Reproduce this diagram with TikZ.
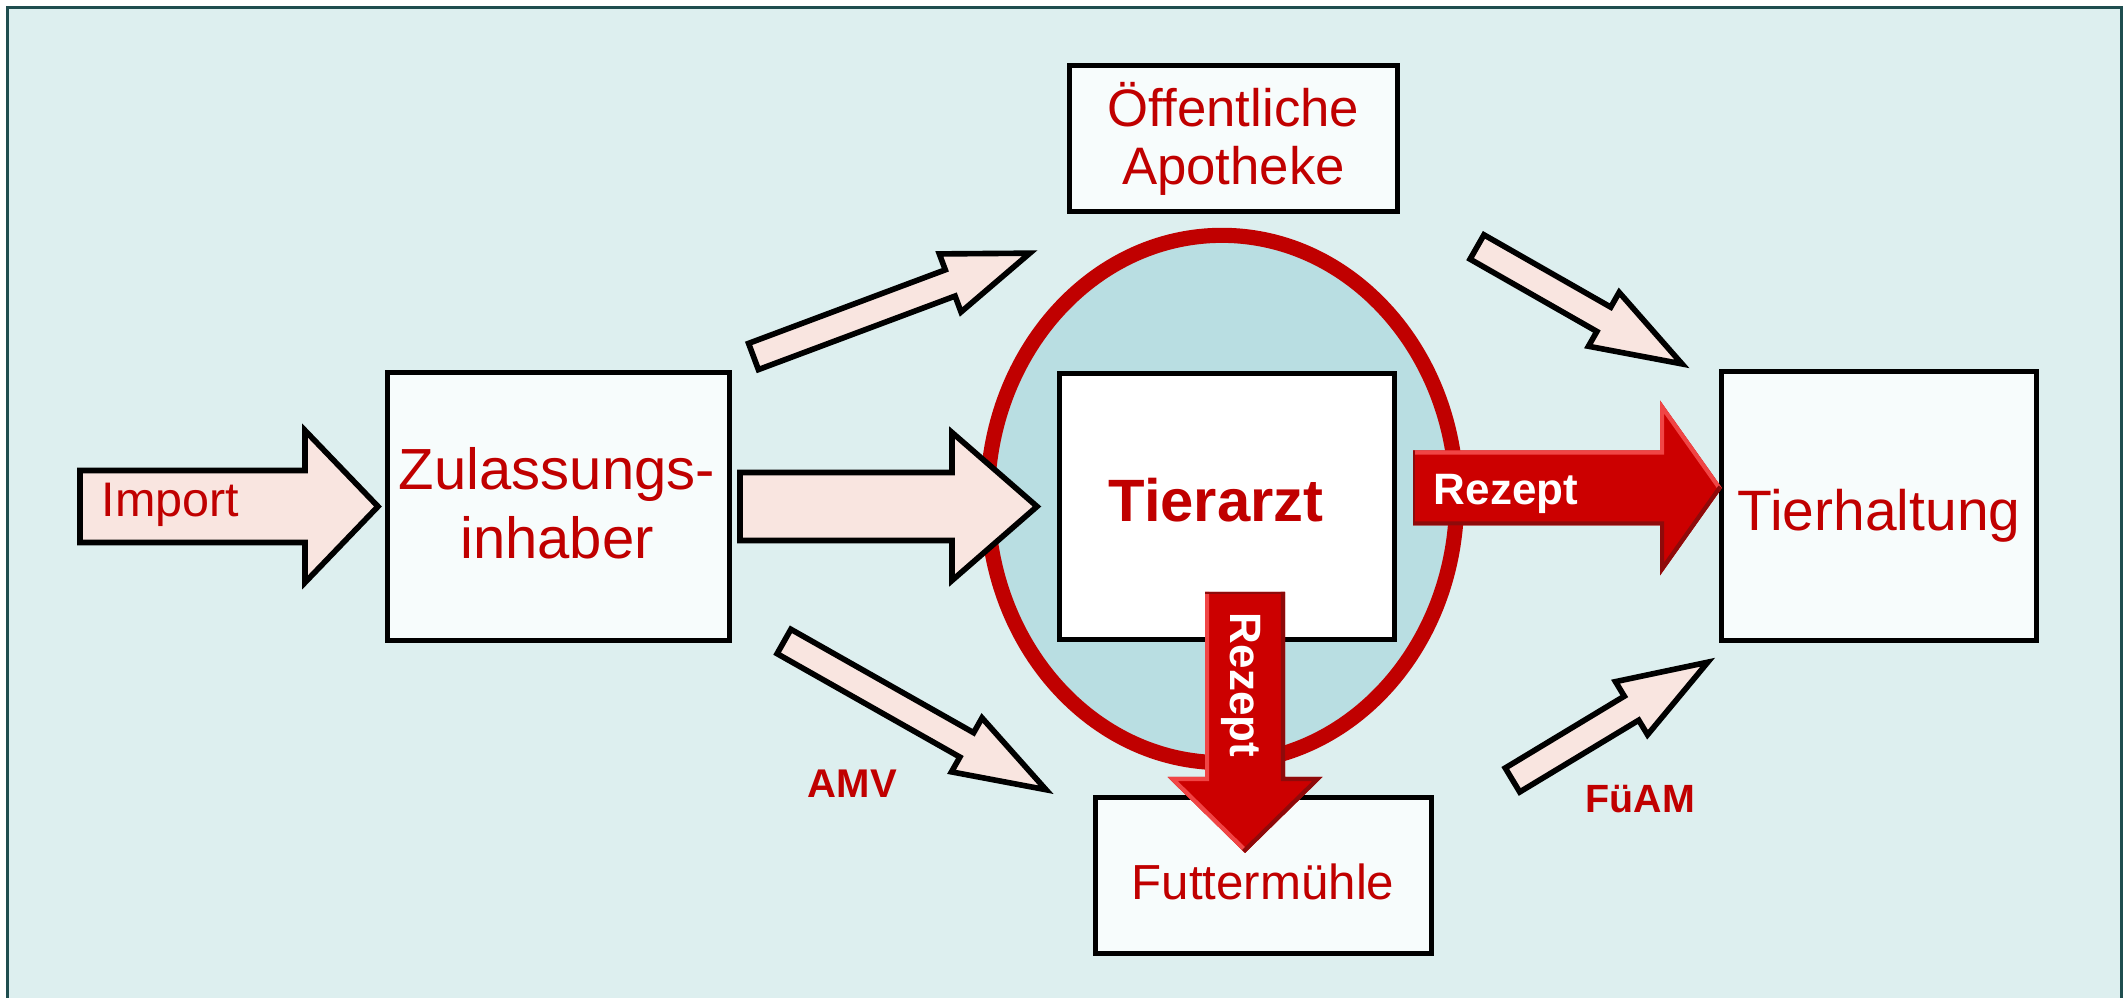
\documentclass[tikz,border=0pt]{standalone}
\usepackage{fontspec}
\setmainfont{Liberation Sans}
\usetikzlibrary{shapes.geometric}
\definecolor{bgteal}{HTML}{DDEFEF}
\definecolor{frameteal}{HTML}{1F4E4F}
\definecolor{txtred}{HTML}{C00000}
\definecolor{ringred}{HTML}{C00000}
\definecolor{ellfill}{HTML}{B9DEE2}
\definecolor{boxfill}{HTML}{F7FCFC}
\definecolor{pinkfill}{HTML}{F9E5E0}
\definecolor{redarrow}{HTML}{CC0000}
\definecolor{redlight}{HTML}{F04545}
\definecolor{reddark}{HTML}{8E0A0A}
\begin{document}
\begin{tikzpicture}[x=0.01cm,y=-0.01cm,
  box/.style={draw=black, line width=1.42pt, fill=boxfill, inner sep=0pt},
  pinkarrow/.style={draw=black, line width=1.6pt, fill=pinkfill, line join=miter},
  lbl/.style={text=txtred, inner sep=0pt},
  rezlbl/.style={text=white, inner sep=0pt, anchor=base, font=\bfseries\fontsize{12.5}{15}\selectfont},
  pics/blockarrow/.style n args={4}{code={
    \draw[pinkarrow] (0,-#1) -- (#3,-#1) -- (#3,-#2) -- (#4,0) -- (#3,#2) -- (#3,#1) -- (0,#1) -- cycle;}},
  pics/redarrow/.style n args={5}{code={
    \fill[redarrow] (0,-#1) -- (#3,-#1) -- (#3,-#2) -- (#4,0) -- (#3,#2) -- (#3,#1) -- (0,#1) -- cycle;
    \begin{scope}
      \clip (0,-#1) -- (#3,-#1) -- (#3,-#2) -- (#4,0) -- (#3,#2) -- (#3,#1) -- (0,#1) -- cycle;
      \draw[line width=2.4pt, draw=redlight, line join=miter] (0,{#5*#1}) -- (#3,{#5*#1}) -- (#3,{#5*#2}) -- (#4,0);
      \draw[line width=2.4pt, draw=reddark, line join=miter] (0,{-#5*#1}) -- (#3,{-#5*#1}) -- (#3,{-#5*#2}) -- (#4,0);
      \draw[line width=1.2pt, draw=reddark] (0,-#1) -- (0,#1);
    \end{scope}}}
]
\useasboundingbox (0,0) rectangle (2123,998);
\fill[white] (0,0) rectangle (2123,998);
\draw[frameteal, line width=0.85pt, fill=bgteal] (7.5,7.5) rectangle (2121.8,1100);

% ellipse
\node[ellipse, draw=ringred, line width=4.3pt, fill=ellfill, minimum width=4.69cm, minimum height=5.27cm, inner sep=0pt] (ring) at (1222,499) {};

% boxes
\node[box, minimum width=3.41cm, minimum height=2.67cm] (zul) at (558.5,506.5) {};
\node[box, fill=white, minimum width=3.34cm, minimum height=2.65cm] (tier) at (1227,506.5) {};
\node[box, minimum width=3.14cm, minimum height=2.68cm] (halt) at (1879,506) {};
\node[box, minimum width=3.27cm, minimum height=1.45cm] (apo) at (1233.5,138.5) {};
\node[box, minimum width=3.35cm, minimum height=1.55cm] (fut) at (1263.5,875.5) {};

% box texts
\node[lbl, font=\fontsize{16.5}{19.6}\selectfont, align=center] (zultext) at (557,503.5) {Zulassungs-\\inhaber};
\node[lbl, font=\fontsize{15}{16.5}\selectfont, align=center] (apotext) at (apo.center) {Öffentliche\\Apotheke};
\node[lbl, font=\fontsize{16.2}{19}\selectfont, anchor=base] (halttext) at (1879,531) {Tierhaltung};
\node[lbl, font=\fontsize{14}{17}\selectfont, anchor=base] (futtext) at (1263,900) {Futtermühle};
\node[lbl, font=\bfseries\fontsize{17}{20}\selectfont, anchor=base] (tiertext) at (1216,522) {Tierarzt};

% pink block arrows
\pic at (80,506.5) {blockarrow={36}{76}{225}{298}};
\pic at (740,506.5) {blockarrow={34}{74}{212}{297}};
\pic[rotate=20.5] at (753.5,356.5) {blockarrow={14}{31}{210}{295}};
\pic[rotate=-29.7] at (1477,247) {blockarrow={14}{31}{146}{236}};
\pic[rotate=-29.5] at (784,641.5) {blockarrow={14}{31}{210}{301}};
\pic[rotate=31.1] at (1512.5,780) {blockarrow={14}{31}{139}{228}};

\node[lbl, font=\fontsize{13.8}{16}\selectfont, anchor=base] (imptext) at (170.5,517) {Import};

% red arrows
\pic at (1413,488) {redarrow={37.5}{87.5}{247}{309}{-1}};
\pic[rotate=-90] at (1245,592) {redarrow={40}{77.5}{185}{261}{1}};
\node[rezlbl] (rez1) at (1506,505) {Rezept};
\node[rezlbl, rotate=-90] (rez2) at (1230,685) {Rezept};

% labels
\node[lbl, font=\bfseries\fontsize{11.4}{13}\selectfont, anchor=base] (amv) at (852.5,798) {AMV};
\node[lbl, font=\bfseries\fontsize{11.2}{13}\selectfont, anchor=base] (fuam) at (1640.5,813) {FüAM};
\end{tikzpicture}
\end{document}
